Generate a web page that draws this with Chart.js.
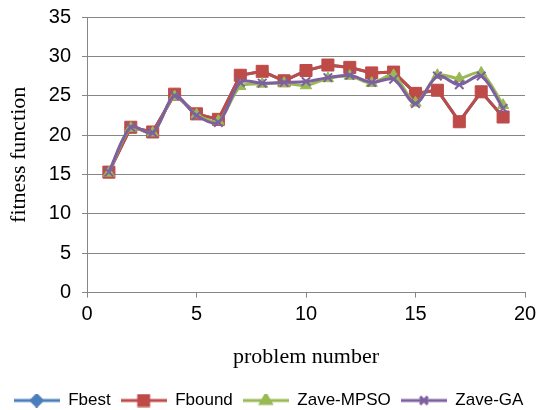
<!DOCTYPE html>
<html><head><meta charset="utf-8">
<script src="https://cdn.jsdelivr.net/npm/chart.js@4/dist/chart.umd.min.js"></script>
<style>html,body{margin:0;padding:0;background:#fff}#wrap{width:537px;height:410px}</style>
</head><body><div id="wrap"><canvas id="c" width="537" height="410"></canvas></div>
<script>
const problems = [1,2,3,4,5,6,7,8,9,10,11,12,13,14,15,16,17,18,19];
const fbest    = [15.3,21.0,20.4,25.2,22.7,22.0,27.6,28.1,26.9,28.2,28.9,28.6,27.9,28.0,25.3,25.7,21.7,25.5,22.3];
const fbound   = [15.3,21.0,20.4,25.2,22.7,22.0,27.6,28.1,26.9,28.2,28.9,28.6,27.9,28.0,25.3,25.7,21.7,25.5,22.3];
const zaveMPSO = [15.2,20.9,20.3,24.9,22.6,21.8,26.2,26.5,26.6,26.3,27.2,27.5,26.6,27.6,24.1,27.6,27.2,27.9,23.8];
const zaveGA   = [15.3,21.0,20.3,25.0,22.5,21.6,26.7,26.6,26.7,26.8,27.3,27.6,26.7,27.1,24.0,27.5,26.4,27.5,23.4];
const seriesNames = ['Fbest','Fbound','Zave-MPSO','Zave-GA'];
const xTicks = [0,5,10,15,20];
const yTicks = [0,5,10,15,20,25,30,35];

const colors = ['#4A7EBB','#BE4B48','#98B954','#7D60A0'];
const styles = ['rectRot','rect','triangle','crossRot'];
const radii = [6,8.5,6.5,6];
const tensions = [0,0,0.3,0.3];
const values = [fbest, fbound, zaveMPSO, zaveGA];

function legendIcon(i){
  const cv = document.createElement('canvas');
  cv.width = 46; cv.height = 14;
  const ctx = cv.getContext('2d');
  ctx.strokeStyle = colors[i]; ctx.lineWidth = 3;
  ctx.beginPath(); ctx.moveTo(0,7); ctx.lineTo(46,7); ctx.stroke();
  ctx.fillStyle = colors[i];
  Chart.helpers.drawPoint(ctx, {pointStyle: styles[i], radius: styles[i]==='rect'?7:radii[i]-0.5, borderWidth: styles[i]==='crossRot'?2:1}, 23, 7);
  if (styles[i] !== 'crossRot') ctx.fill();
  return cv;
}

const datasets = values.map((v,i)=>({
  label: seriesNames[i],
  data: problems.map((p,k)=>({x:p,y:v[k]})),
  borderColor: colors[i],
  backgroundColor: colors[i],
  borderWidth: 3,
  pointStyle: styles[i],
  pointRadius: radii[i],
  pointBorderWidth: styles[i]==='crossRot'?2:1,
  showLine: true,
  tension: tensions[i],
  order: 3 - i
}));

const icons = seriesNames.map((_,i)=>legendIcon(i));

new Chart(document.getElementById('c'), {
  type: 'scatter',
  data: { datasets },
  options: {
    responsive: false,
    animation: false,
    layout: { padding: { top: 0, right: 0, left: 0, bottom: -9 } },
    plugins: {
      tooltip: { enabled: false },
      legend: {
        position: 'bottom',
        labels: {
          usePointStyle: true,
          pointStyleWidth: 46,
          boxHeight: 14,
          padding: 10,
          color: '#000',
          font: { family: 'Liberation Sans', size: 17 },
          generateLabels: (chart) => seriesNames.map((n,i)=>({
            text: n, pointStyle: icons[i], fillStyle: colors[i], strokeStyle: colors[i],
            lineWidth: 0, hidden: false, datasetIndex: i, fontColor: '#000'
          }))
        }
      }
    },
    scales: {
      x: {
        type: 'linear', min: 0, max: 20,
        afterBuildTicks: (s) => { s.ticks = xTicks.map(v=>({value:v})); },
        afterFit: (s) => { s.paddingRight = 12; s.paddingLeft = 0; },
        grid: { display: true, drawOnChartArea: false, drawTicks: true, tickLength: 5, color: '#868686' },
        border: { color: '#868686', width: 1 },
        ticks: { color: '#000', font: { family: 'Liberation Sans', size: 20 }, padding: 5, maxRotation: 0 },
        title: { display: true, text: 'problem number', color: '#000', font: { family: 'Liberation Serif', size: 22 }, padding: { top: 12, bottom: 12 } }
      },
      y: {
        min: 0, max: 35,
        afterBuildTicks: (s) => { s.ticks = yTicks.map(v=>({value:v})); },
        afterFit: (s) => { s.width = 87; s.paddingTop = 17; s.paddingBottom = 0; },
        grid: { color: '#868686', lineWidth: 1, tickLength: 5, drawTicks: true },
        border: { color: '#868686', width: 1 },
        ticks: { color: '#000', font: { family: 'Liberation Sans', size: 20 }, padding: 11 },
        title: { display: true, text: 'fitness function', color: '#000', font: { family: 'Liberation Serif', size: 22 }, padding: { top: 6, bottom: 4 } }
      }
    }
  }
});
</script></body></html>
